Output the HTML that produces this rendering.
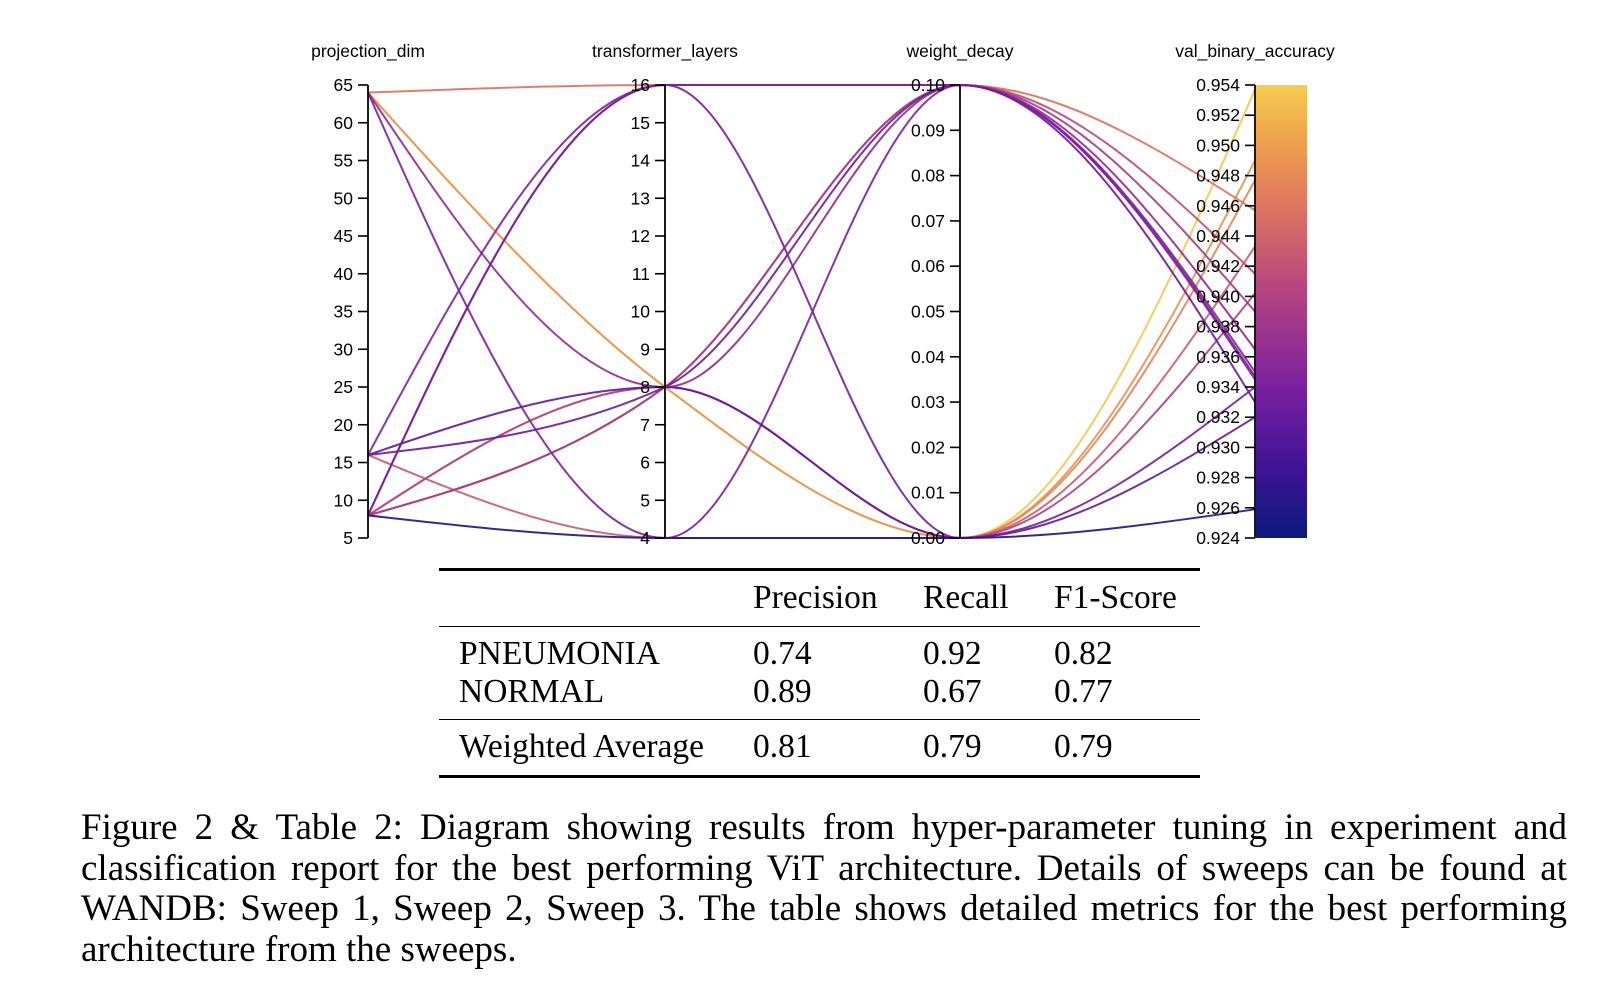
<!DOCTYPE html>
<html><head><meta charset="utf-8">
<style>
html,body{margin:0;padding:0;background:#fff;}
body{width:1624px;height:1002px;position:relative;overflow:hidden;font-family:"Liberation Serif",serif;}
svg text{font-family:"Liberation Sans",sans-serif;}
.tbl{position:absolute;left:439px;top:568px;width:761px;}
.rule{position:absolute;left:0;width:761px;background:#000;}
.cell{position:absolute;font-size:33.5px;line-height:33.5px;white-space:nowrap;color:#000;}
.caption{position:absolute;left:81px;top:808px;width:1486px;font-size:37px;line-height:40.5px;color:#000;}
.caption div{text-align:justify;text-align-last:justify;white-space:nowrap;}
.caption div.last{text-align-last:left;}
</style></head>
<body>
<svg id="chart" width="1624" height="560" style="position:absolute;left:0;top:0">
<defs>
<linearGradient id="cbar" x1="0" y1="1" x2="0" y2="0">
<stop offset="0" stop-color="#0c1a7e"/><stop offset="0.15" stop-color="#3d1396"/>
<stop offset="0.33" stop-color="#7a1fa0"/><stop offset="0.55" stop-color="#b7457f"/>
<stop offset="0.75" stop-color="#e27a5e"/><stop offset="0.88" stop-color="#eea24b"/>
<stop offset="1" stop-color="#f6cc50"/>
</linearGradient>
</defs>
<g id="lines"></g>
<g id="axes"></g>
</svg>

<div class="tbl">
<div class="rule" style="top:0;height:3px"></div>
<div class="cell" style="left:314px;top:13px">Precision</div>
<div class="cell" style="left:484px;top:13px">Recall</div>
<div class="cell" style="left:615px;top:13px">F1-Score</div>
<div class="rule" style="top:58px;height:1.3px"></div>
<div class="cell" style="left:20px;top:69px">PNEUMONIA</div>
<div class="cell" style="left:314px;top:69px">0.74</div>
<div class="cell" style="left:484px;top:69px">0.92</div>
<div class="cell" style="left:615px;top:69px">0.82</div>
<div class="cell" style="left:20px;top:106.5px">NORMAL</div>
<div class="cell" style="left:314px;top:106.5px">0.89</div>
<div class="cell" style="left:484px;top:106.5px">0.67</div>
<div class="cell" style="left:615px;top:106.5px">0.77</div>
<div class="rule" style="top:151px;height:1.3px"></div>
<div class="cell" style="left:20px;top:162px">Weighted Average</div>
<div class="cell" style="left:314px;top:162px">0.81</div>
<div class="cell" style="left:484px;top:162px">0.79</div>
<div class="cell" style="left:615px;top:162px">0.79</div>
<div class="rule" style="top:207px;height:3px"></div>
</div>

<div class="caption">
<div>Figure 2 &amp; Table 2: Diagram showing results from hyper-parameter tuning in experiment and</div>
<div>classification report for the best performing ViT architecture. Details of sweeps can be found at</div>
<div>WANDB: Sweep 1, Sweep 2, Sweep 3. The table shows detailed metrics for the best performing</div>
<div class="last">architecture from the sweeps.</div>
</div>

<script>
const dimNames = ["projection_dim","transformer_layers","weight_decay","val_binary_accuracy"];
const projDim  = [64,64,64,64,16,16,16,16,8,8,8,8,8,64,8,8];
const layers   = [16,8,8,4,16,8,8,4,16,16,8,8,4,8,8,8];
const wDecay   = [0.10,0.00,0.10,0.10,0.10,0.10,0.00,0.00,0.00,0.10,0.10,0.00,0.00,0.00,0.00,0.10];
const accuracy = [0.9457,0.9490,0.9365,0.9347,0.9350,0.9330,0.9320,0.9433,0.9340,0.9345,0.9415,0.9402,0.9259,0.9537,0.9477,0.9390];
const projTicks = [5,10,15,20,25,30,35,40,45,50,55,60,65];
const layerTicks = [4,5,6,7,8,9,10,11,12,13,14,15,16];
const wdTicks = [0,0.01,0.02,0.03,0.04,0.05,0.06,0.07,0.08,0.09,0.10];
const accTicks = [0.924,0.926,0.928,0.930,0.932,0.934,0.936,0.938,0.940,0.942,0.944,0.946,0.948,0.950,0.952,0.954];

const NS="http://www.w3.org/2000/svg";
const axisX=[368,665,960,1255];
const yTop=85, yBot=538;
const domains=[[5,65],[4,16],[0,0.10],[0.924,0.954]];
function yScale(d,v){const [a,b]=domains[d];return yBot-(v-a)/(b-a)*(yBot-yTop);}
const colorStops=[[0,[12,26,126]],[0.15,[61,19,150]],[0.33,[122,31,160]],[0.55,[183,69,127]],[0.75,[226,122,94]],[0.88,[238,162,75]],[1,[246,204,80]]];
function color(v){
  let t=(v-0.924)/0.030;t=Math.max(0,Math.min(1,t));
  for(let i=1;i<colorStops.length;i++){
    if(t<=colorStops[i][0]){const [t0,c0]=colorStops[i-1],[t1,c1]=colorStops[i];const f=(t-t0)/(t1-t0);
      return "rgb("+c0.map((c,k)=>Math.round(c+(c1[k]-c)*f)).join(",")+")";}
  }
  return "rgb(246,204,80)";
}
function sign(x){return x<0?-1:1;}
function monotonePath(xs,ys){
  const n=xs.length,t=new Array(n);
  for(let i=1;i<n-1;i++){
    const h0=xs[i]-xs[i-1],h1=xs[i+1]-xs[i],s0=(ys[i]-ys[i-1])/h0,s1=(ys[i+1]-ys[i])/h1,p=(s0*h1+s1*h0)/(h0+h1);
    t[i]=(sign(s0)+sign(s1))*Math.min(Math.abs(s0),Math.abs(s1),0.5*Math.abs(p))||0;
  }
  t[0]=(3*(ys[1]-ys[0])/(xs[1]-xs[0])-t[1])/2;
  t[n-1]=(3*(ys[n-1]-ys[n-2])/(xs[n-1]-xs[n-2])-t[n-2])/2;
  let d="M"+xs[0]+","+ys[0];
  for(let i=0;i<n-1;i++){const dx=(xs[i+1]-xs[i])/3;
    d+="C"+(xs[i]+dx)+","+(ys[i]+dx*t[i])+","+(xs[i+1]-dx)+","+(ys[i+1]-dx*t[i+1])+","+xs[i+1]+","+ys[i+1];}
  return d;
}
const linesG=document.getElementById("lines");
const order=accuracy.map((a,i)=>i).sort((a,b)=>accuracy[b]-accuracy[a]);
order.forEach(i=>{
  const vals=[projDim[i],layers[i],wDecay[i],accuracy[i]];
  const ys=vals.map((v,d)=>yScale(d,v));
  const p=document.createElementNS(NS,"path");
  p.setAttribute("d",monotonePath(axisX,ys));
  p.setAttribute("fill","none");p.setAttribute("stroke",color(accuracy[i]));
  p.setAttribute("stroke-width","2");p.setAttribute("stroke-opacity","0.92");
  
  
  linesG.appendChild(p);
});
const axesG=document.getElementById("axes");
const cb=document.createElementNS(NS,"rect");
cb.setAttribute("x",1256);cb.setAttribute("y",yTop);cb.setAttribute("width",51);cb.setAttribute("height",yBot-yTop);
cb.setAttribute("fill","url(#cbar)");


axesG.appendChild(cb);
const tickSets=[projTicks,layerTicks,wdTicks,accTicks];
const fmt=[v=>String(v),v=>String(v),v=>v.toFixed(2),v=>v.toFixed(3)];
axisX.forEach((x,d)=>{
  const ln=document.createElementNS(NS,"line");
  ln.setAttribute("x1",x);ln.setAttribute("x2",x);ln.setAttribute("y1",yTop);ln.setAttribute("y2",yBot);
  ln.setAttribute("stroke","#000");ln.setAttribute("stroke-width","1.8");
  
  
  axesG.appendChild(ln);
  const title=document.createElementNS(NS,"text");
  title.setAttribute("x",x);title.setAttribute("y",57);title.setAttribute("text-anchor","middle");
  title.setAttribute("font-size","17.5");title.textContent=dimNames[d];
  
  
  axesG.appendChild(title);
  tickSets[d].forEach(v=>{
    const y=yScale(d,v);
    const tk=document.createElementNS(NS,"line");
    tk.setAttribute("x1",x-10);tk.setAttribute("x2",x);tk.setAttribute("y1",y);tk.setAttribute("y2",y);
    tk.setAttribute("stroke","#000");tk.setAttribute("stroke-width","1.6");
    
    
    axesG.appendChild(tk);
    const lb=document.createElementNS(NS,"text");
    lb.setAttribute("x",x-15);lb.setAttribute("y",y+6);lb.setAttribute("text-anchor","end");
    lb.setAttribute("font-size","17.5");lb.textContent=fmt[d](v);
    
    
    axesG.appendChild(lb);
  });
});
</script>
</body></html>
